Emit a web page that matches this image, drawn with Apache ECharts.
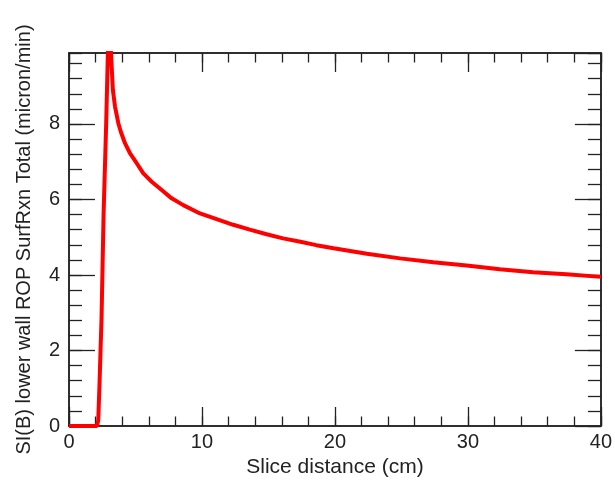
<!DOCTYPE html>
<html>
<head>
<meta charset="utf-8">
<script src="https://cdn.jsdelivr.net/npm/echarts@6/dist/echarts.min.js"></script>
<style>
html,body{margin:0;padding:0;background:#fff;}
#chart{width:615px;height:484px;}
</style>
</head>
<body>
<div id="chart"></div>
<script>
// Slice distance (cm)
const sliceDistance = [0, 2.1, 2.2, 2.3, 2.45, 2.6, 2.8, 3.0, 3.3, 3.46, 3.71, 3.89, 4.21, 4.59, 5.09, 5.59, 6.22, 6.97, 7.72, 8.59, 9.85, 11.1, 12.35, 13.6, 14.86, 16.1, 17.4, 18.6, 19.9, 22.4, 24.9, 27.4, 29.9, 32.4, 34.9, 37.4, 40];
// SI(B) lower wall ROP SurfRxn Total (micron/min)
const ropTotal = [0, 0, 0.15, 1.17, 2.9, 5.6, 8.06, 11.0, 8.9, 8.46, 8.02, 7.80, 7.49, 7.22, 6.96, 6.69, 6.47, 6.25, 6.03, 5.85, 5.63, 5.48, 5.33, 5.20, 5.08, 4.97, 4.88, 4.79, 4.71, 4.56, 4.44, 4.34, 4.25, 4.15, 4.07, 4.02, 3.95];
const xTickLabels = ['0', '10', '20', '30', '40'];
const yTickLabels = ['0', '2', '4', '6', '8'];

const X_MIN = 0, X_MAX = 40, X_MAJOR = 10, X_MINOR = 2;
const Y_MIN = 0, Y_MAX = 9.88, Y_MAJOR = 2, Y_MINOR = 0.4;

const axisColor = '#222';
const font = 'Liberation Sans, Arial, Helvetica, sans-serif';

function xAx(pos, interval, len, labels, extra) {
  return Object.assign({
    type: 'value', position: pos, min: X_MIN, max: X_MAX, interval: interval,
    axisLine: { show: true, onZero: false, lineStyle: { color: axisColor, width: 1.5 } },
    axisTick: { show: true, inside: true, length: len, lineStyle: { color: axisColor, width: 1.3 } },
    axisLabel: labels ? {
      show: true, color: axisColor, fontSize: 20, fontFamily: font, margin: 6,
      formatter: v => xTickLabels.includes(String(v)) ? String(v) : ''
    } : { show: false },
    splitLine: { show: false }
  }, extra || {});
}
function yAx(pos, interval, len, labels, extra) {
  return Object.assign({
    type: 'value', position: pos, min: Y_MIN, max: Y_MAX, interval: interval,
    axisLine: { show: true, onZero: false, lineStyle: { color: axisColor, width: 1.5 } },
    axisTick: { show: true, inside: true, length: len, lineStyle: { color: axisColor, width: 1.3 } },
    axisLabel: labels ? {
      show: true, color: axisColor, fontSize: 20, fontFamily: font, margin: 9, showMaxLabel: false,
      formatter: v => yTickLabels.includes(String(v)) ? String(v) : ''
    } : { show: false },
    splitLine: { show: false }
  }, extra || {});
}

const chart = echarts.init(document.getElementById('chart'), null, { renderer: 'canvas' });
chart.setOption({
  animation: false,
  backgroundColor: '#fff',
  grid: { left: 69, right: 14, top: 53, bottom: 58, containLabel: false },
  xAxis: [
    xAx('bottom', X_MAJOR, 19, true, {
      name: 'Slice distance (cm)', nameLocation: 'middle', nameGap: 30,
      nameTextStyle: { color: axisColor, fontSize: 21, fontFamily: font }
    }),
    xAx('bottom', X_MINOR, 9.5, false),
    xAx('top', X_MAJOR, 19, false),
    xAx('top', X_MINOR, 9.5, false)
  ],
  yAxis: [
    yAx('left', Y_MAJOR, 26, true, {
      name: 'SI(B) lower wall ROP SurfRxn Total (micron/min)', nameLocation: 'middle', nameGap: 35,
      nameTextStyle: { color: axisColor, fontSize: 20, fontFamily: font }
    }),
    yAx('left', Y_MINOR, 13, false),
    yAx('right', Y_MAJOR, 26, false),
    yAx('right', Y_MINOR, 13, false)
  ],
  series: [{
    type: 'line',
    xAxisIndex: 0, yAxisIndex: 0,
    data: sliceDistance.map((x, i) => [x, ropTotal[i]]),
    showSymbol: false,
    clip: true,
    lineStyle: { color: '#ff0000', width: 4 },
    itemStyle: { color: '#ff0000' }
  }]
});
</script>
</body>
</html>
